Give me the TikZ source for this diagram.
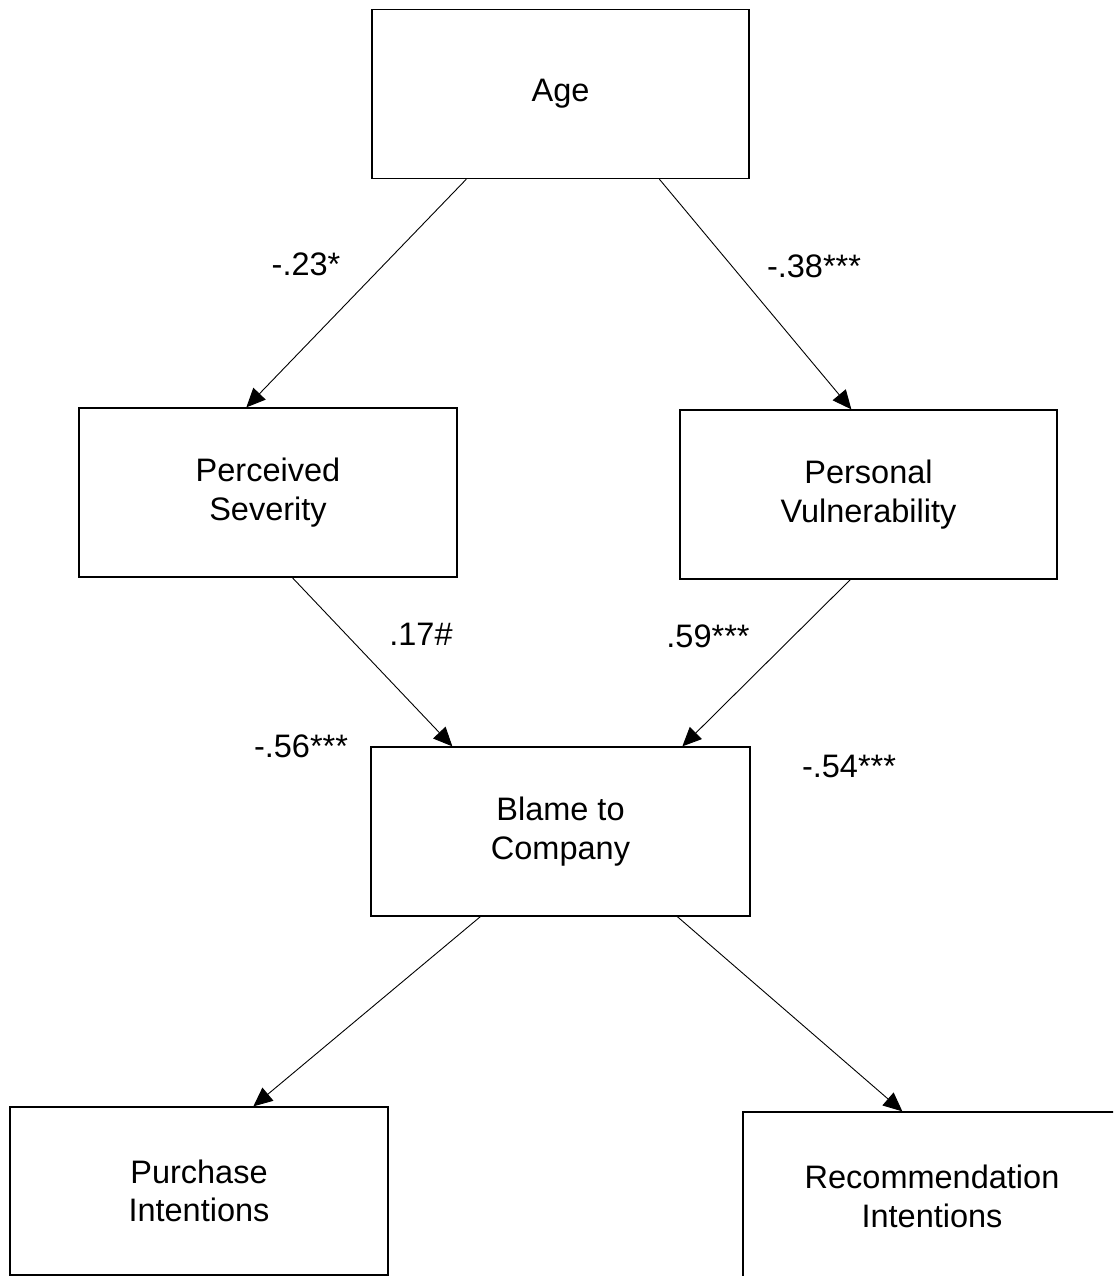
\documentclass[tikz,border=0pt]{standalone}
\usepackage{fontspec}
\setmainfont{Liberation Sans}
\usetikzlibrary{arrows.meta}
\begin{document}
\begin{tikzpicture}[x=1pt,y=-1pt,
  box/.style={draw, line width=1.3pt, rectangle, align=center, inner sep=0pt,
    font=\fontsize{32.5}{38.5}\selectfont},
  conn/.style={line width=0.9pt, -{Triangle[length=19pt,width=17pt]}},
  lbl/.style={anchor=base, inner sep=0pt, font=\fontsize{32.5}{38.5}\selectfont}]
\useasboundingbox (0,0) rectangle (1113,1276);
\clip (0,0) rectangle (1113,1276);
\fill[white] (0,0) rectangle (1113,1276);
\node[box, minimum width=377pt, minimum height=169pt] (age) at (560.5,94) {Age};
\node[box, minimum width=378pt, minimum height=169pt] (ps) at (268,492.5) {Perceived\\Severity};
\node[box, minimum width=377pt, minimum height=169pt] (pv) at (868.5,494.5) {Personal\\Vulnerability};
\node[box, minimum width=379pt, minimum height=169pt] (blame) at (560.5,831.5) {Blame to\\Company};
\node[box, minimum width=378pt, minimum height=168pt] (pi) at (199,1191) {Purchase\\Intentions};
\node[box, minimum width=378pt, minimum height=169pt] (ri) at (932,1196.5) {Recommendation\\Intentions};

\draw[conn] ([xshift=95pt]age.south west) -- ([xshift=168pt]ps.north west);
\draw[conn] ([xshift=288pt]age.south west) -- ([xshift=172pt]pv.north west);
\draw[conn] ([xshift=214pt]ps.south west) -- ([xshift=82pt]blame.north west);
\draw[conn] ([xshift=171pt]pv.south west) -- ([xshift=312pt]blame.north west);
\draw[conn] ([xshift=110pt]blame.south west) -- ([xshift=244pt]pi.north west);
\draw[conn] ([xshift=307pt]blame.south west) -- ([xshift=160pt]ri.north west);

\node[lbl] (l1) at (306,275) {-.23*};
\node[lbl] (l2) at (814,277) {-.38***};
\node[lbl] (l3) at (421,645) {.17\#};
\node[lbl] (l4) at (708,647) {.59***};
\node[lbl] (l5) at (301,757) {-.56***};
\node[lbl] (l6) at (849,777) {-.54***};
\end{tikzpicture}
\end{document}
